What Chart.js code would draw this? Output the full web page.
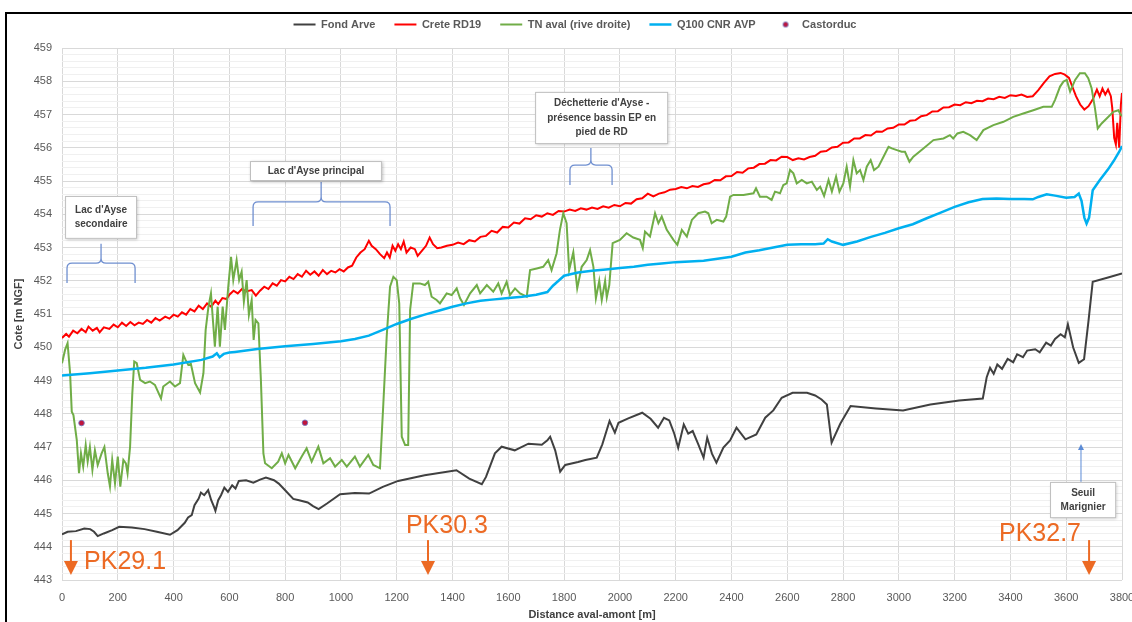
<!DOCTYPE html>
<html lang="fr">
<head>
    <meta charset="UTF-8">
    <title>Profil en long - Arve</title>
    <style>
        body {
    margin: 0;
    padding: 0;
    background-color: #ffffff;
    overflow: hidden;
    width: 1132px;
    height: 622px;
    position: relative;
}

#profil {
    position: absolute;
    left: 0;
    top: 0;
}

.frame {
    position: absolute;
    left: 5px;
    top: 12px;
    width: 1300px;
    height: 800px;
    border: 2px solid #000000;
    pointer-events: none;
}
    </style>
</head>
<body>
    <canvas id="profil" width="1160" height="640"></canvas>
    <div class="frame"></div>
    <script src="https://cdn.jsdelivr.net/npm/chart.js"></script>
    <script>
// Fond Arve
const fondX = [0, 20, 50, 80, 101, 115, 128, 150, 180, 205, 250, 296, 340, 387, 414, 440, 452, 465, 475, 490,
    498, 510, 524, 535, 545, 550, 560, 570, 582, 595, 610, 622, 634, 660, 686, 710, 731, 760, 777, 800,
    829, 850, 881, 900, 920, 950, 997, 1050, 1101, 1150, 1205, 1300, 1414, 1460, 1505, 1520, 1552, 1576, 1623, 1672,
    1720, 1740, 1750, 1768, 1786, 1804, 1850, 1876, 1917, 1937, 1963, 1982, 1995, 2030, 2080, 2110, 2137, 2158, 2177, 2195,
    2209, 2229, 2245, 2261, 2280, 2300, 2313, 2330, 2346, 2371, 2395, 2418, 2450, 2489, 2521, 2550, 2580, 2619, 2671, 2700,
    2723, 2742, 2759, 2790, 2827, 2918, 3015, 3113, 3216, 3301, 3315, 3327, 3340, 3353, 3370, 3390, 3410, 3424, 3445, 3460,
    3489, 3505, 3528, 3545, 3560, 3580, 3595, 3606, 3625, 3645, 3664, 3680, 3695, 3750, 3800];
const fondY = [444.37, 444.45, 444.47, 444.55, 444.53, 444.45, 444.32, 444.40, 444.50, 444.60, 444.58, 444.53, 444.45, 444.36, 444.50, 444.72, 444.88, 444.95, 445.25, 445.45,
    445.63, 445.55, 445.70, 445.40, 445.20, 445.08, 445.40, 445.55, 445.78, 445.65, 445.85, 445.75, 445.98, 446.00, 445.93, 446.02, 446.08, 446.00, 445.90, 445.70,
    445.44, 445.40, 445.33, 445.22, 445.13, 445.30, 445.58, 445.62, 445.60, 445.80, 445.98, 446.15, 446.30, 446.05, 445.88, 446.10, 446.81, 447.01, 446.90, 447.10,
    447.07, 447.20, 447.31, 446.90, 446.26, 446.46, 446.55, 446.61, 446.68, 447.08, 447.78, 447.43, 447.73, 447.86, 448.03, 447.85, 447.58, 447.88, 447.80, 447.40,
    446.98, 447.68, 447.40, 447.48, 447.10, 446.68, 447.28, 446.80, 446.53, 446.98, 447.20, 447.58, 447.23, 447.38, 447.88, 448.10, 448.48, 448.63, 448.63, 448.55,
    448.43, 448.28, 447.13, 447.70, 448.23, 448.16, 448.10, 448.28, 448.40, 448.46, 449.10, 449.38, 449.20, 449.48, 449.35, 449.65, 449.55, 449.79, 449.70, 449.90,
    449.94, 449.85, 450.14, 450.05, 450.25, 450.39, 450.30, 450.69, 449.99, 449.53, 449.64, 450.80, 451.97, 452.10, 452.22];

// Crete RD19
const creteX = [0, 15, 25, 40, 55, 70, 85, 95, 110, 125, 135, 150, 170, 185, 200, 215, 230, 245, 260, 275,
    290, 305, 320, 335, 350, 370, 385, 400, 415, 430, 445, 460, 475, 490, 505, 520, 535, 550, 560, 575,
    590, 600, 615, 630, 645, 660, 680, 695, 710, 725, 740, 755, 770, 785, 800, 815, 830, 845, 860, 875,
    890, 905, 920, 935, 950, 965, 980, 995, 1010, 1025, 1040, 1055, 1070, 1085, 1100, 1110, 1125, 1140, 1155, 1165,
    1175, 1185, 1195, 1205, 1215, 1225, 1235, 1250, 1265, 1275, 1290, 1305, 1318, 1330, 1345, 1360, 1380, 1400, 1420, 1440,
    1460, 1480, 1500, 1520, 1540, 1560, 1580, 1600, 1620, 1640, 1660, 1680, 1700, 1720, 1740, 1760, 1780, 1800, 1820, 1840,
    1860, 1880, 1900, 1920, 1940, 1960, 1980, 2000, 2020, 2040, 2060, 2080, 2100, 2120, 2140, 2160, 2180, 2200, 2220, 2240,
    2260, 2280, 2300, 2320, 2340, 2360, 2380, 2400, 2420, 2440, 2460, 2480, 2500, 2520, 2540, 2560, 2580, 2600, 2620, 2640,
    2660, 2680, 2700, 2720, 2740, 2760, 2780, 2800, 2820, 2840, 2860, 2880, 2900, 2920, 2940, 2960, 2980, 3000, 3020, 3040,
    3060, 3080, 3100, 3120, 3140, 3160, 3180, 3200, 3220, 3240, 3260, 3280, 3300, 3320, 3340, 3360, 3380, 3400, 3420, 3440,
    3460, 3480, 3500, 3520, 3540, 3560, 3580, 3595, 3610, 3620, 3635, 3650, 3665, 3680, 3695, 3710, 3720, 3730, 3740, 3750,
    3760, 3765, 3772, 3778, 3783, 3790, 3796, 3800];
const creteY = [450.28, 450.40, 450.32, 450.50, 450.42, 450.55, 450.45, 450.62, 450.50, 450.58, 450.45, 450.60, 450.55, 450.68, 450.60, 450.74, 450.64, 450.76, 450.66, 450.74,
    450.70, 450.82, 450.74, 450.88, 450.80, 450.92, 450.86, 450.98, 450.92, 451.05, 450.98, 451.15, 451.08, 451.25, 451.15, 451.32, 451.22, 451.40, 451.30, 451.48,
    451.45, 451.58, 451.70, 451.62, 451.75, 451.68, 451.72, 451.55, 451.70, 451.82, 451.75, 451.92, 451.85, 452.02, 451.98, 452.12, 452.05, 452.20, 452.12, 452.30,
    452.18, 452.28, 452.15, 452.32, 452.20, 452.30, 452.25, 452.35, 452.28, 452.40, 452.45, 452.70, 452.85, 452.95, 453.20, 453.05, 452.95, 452.80, 452.68, 452.85,
    452.70, 453.05, 452.90, 453.10, 452.95, 453.18, 452.85, 453.00, 452.95, 452.75, 452.90, 453.05, 453.30, 453.10, 452.98, 453.00, 453.05, 453.08, 453.15, 453.10,
    453.22, 453.18, 453.32, 453.35, 453.50, 453.45, 453.62, 453.60, 453.75, 453.72, 453.88, 453.85, 453.97, 453.93, 454.03, 453.98, 454.10, 454.08, 454.14, 454.10,
    454.18, 454.14, 454.20, 454.16, 454.24, 454.20, 454.28, 454.24, 454.34, 454.32, 454.45, 454.48, 454.62, 454.54, 454.62, 454.66, 454.74, 454.76, 454.82, 454.78,
    454.85, 454.82, 454.90, 454.93, 455.03, 455.02, 455.14, 455.15, 455.27, 455.25, 455.38, 455.40, 455.51, 455.52, 455.63, 455.62, 455.73, 455.72, 455.63, 455.68,
    455.65, 455.72, 455.76, 455.88, 455.90, 456.01, 456.03, 456.15, 456.16, 456.28, 456.28, 456.38, 456.37, 456.49, 456.48, 456.58, 456.60, 456.70, 456.70, 456.81,
    456.83, 456.95, 456.98, 457.09, 457.10, 457.21, 457.22, 457.30, 457.28, 457.37, 457.34, 457.41, 457.40, 457.48, 457.46, 457.53, 457.50, 457.58, 457.56, 457.60,
    457.53, 457.55, 457.73, 457.95, 458.15, 458.22, 458.25, 458.20, 458.10, 457.88, 457.55, 457.30, 457.15, 457.25, 457.45, 457.75, 457.55, 457.78, 457.60, 457.75,
    457.55, 457.20, 456.30, 456.10, 456.75, 456.00, 457.30, 457.65];

// TN aval (rive droite)
const tnX = [0, 11, 20, 29, 35, 41, 53, 61, 68, 76, 85, 92, 100, 109, 118, 128, 142, 152, 164, 172,
    180, 190, 200, 209, 220, 229, 235, 244, 252, 259, 268, 280, 298, 315, 333, 355, 363, 387, 405, 423,
    435, 443, 453, 462, 477, 495, 507, 515, 525, 534, 541, 548, 558, 566, 576, 584, 596, 606, 614, 626,
    635, 644, 652, 662, 670, 680, 687, 694, 704, 713, 722, 728, 752, 775, 788, 800, 812, 836, 859, 877,
    895, 919, 937, 961, 979, 1003, 1021, 1050, 1068, 1098, 1116, 1140, 1152, 1164, 1176, 1188, 1200, 1209, 1218, 1230,
    1241, 1248, 1259, 1283, 1301, 1313, 1325, 1343, 1355, 1379, 1397, 1415, 1427, 1441, 1463, 1487, 1499, 1523, 1546, 1564,
    1576, 1594, 1606, 1624, 1642, 1666, 1678, 1702, 1725, 1743, 1755, 1773, 1785, 1797, 1809, 1818, 1833, 1847, 1863, 1881,
    1893, 1905, 1914, 1926, 1935, 1947, 1953, 1962, 1974, 2000, 2024, 2048, 2072, 2082, 2090, 2108, 2126, 2138, 2150, 2168,
    2192, 2206, 2222, 2240, 2258, 2281, 2305, 2317, 2329, 2347, 2371, 2381, 2395, 2407, 2443, 2479, 2488, 2502, 2526, 2544,
    2556, 2574, 2586, 2598, 2610, 2622, 2634, 2652, 2670, 2688, 2706, 2718, 2732, 2748, 2760, 2775, 2787, 2801, 2813, 2825,
    2837, 2849, 2861, 2873, 2885, 2899, 2911, 2927, 2945, 2963, 2975, 2993, 3010, 3022, 3038, 3052, 3088, 3124, 3160, 3183,
    3195, 3210, 3231, 3255, 3279, 3303, 3339, 3375, 3410, 3446, 3482, 3518, 3548, 3560, 3578, 3590, 3602, 3614, 3632, 3649,
    3667, 3679, 3691, 3703, 3713, 3727, 3745, 3769, 3787, 3793, 3800];
const tnY = [449.52, 449.92, 450.12, 449.22, 448.06, 447.96, 447.21, 446.21, 446.81, 446.41, 447.06, 446.56, 447.00, 446.31, 446.90, 446.46, 446.81, 447.00, 446.21, 445.81,
    446.61, 445.91, 446.71, 445.81, 446.61, 446.51, 446.21, 447.00, 448.61, 449.57, 449.52, 449.02, 448.92, 448.97, 448.87, 448.46, 448.82, 448.97, 448.82, 448.92,
    449.77, 449.62, 449.47, 449.50, 448.92, 448.64, 449.22, 450.52, 451.22, 451.62, 450.82, 450.02, 451.22, 450.02, 451.22, 450.52, 451.82, 452.72, 452.02, 452.62,
    452.02, 452.27, 451.37, 452.02, 450.97, 451.42, 450.22, 450.82, 450.72, 449.02, 446.81, 446.51, 446.36, 446.56, 446.81, 446.51, 446.76, 446.36, 446.71, 446.96,
    446.56, 447.01, 446.51, 446.66, 446.41, 446.61, 446.41, 446.71, 446.41, 446.76, 446.46, 446.36, 448.31, 450.32, 451.82, 452.12, 452.02, 451.32, 447.31, 447.06,
    447.06, 451.12, 451.92, 451.92, 451.87, 451.97, 451.52, 451.42, 451.32, 451.62, 451.57, 451.77, 451.47, 451.27, 451.62, 451.87, 451.62, 451.87, 451.67, 451.92,
    451.62, 451.97, 451.57, 451.77, 451.62, 451.52, 452.32, 452.37, 452.42, 452.62, 452.32, 452.82, 453.53, 454.03, 453.73, 452.32, 452.86, 451.77, 452.42, 452.62,
    452.92, 452.42, 451.47, 452.00, 451.42, 452.00, 451.50, 451.87, 453.13, 453.23, 453.43, 453.30, 453.23, 452.98, 453.48, 453.33, 454.03, 453.73, 453.93, 453.53,
    453.23, 453.08, 453.53, 453.33, 453.83, 454.03, 454.08, 454.03, 453.73, 453.83, 453.78, 453.93, 454.53, 454.58, 454.58, 454.63, 454.78, 454.53, 454.53, 454.43,
    454.68, 454.63, 454.88, 454.93, 455.33, 455.23, 454.93, 455.03, 454.93, 454.98, 454.73, 454.83, 454.55, 455.03, 454.68, 455.13, 454.68, 454.93, 455.43, 454.83,
    455.63, 455.23, 455.33, 455.03, 455.43, 455.63, 455.33, 455.43, 455.73, 456.03, 455.98, 455.93, 455.88, 455.88, 455.58, 455.73, 455.98, 456.23, 456.28, 456.38,
    456.28, 456.43, 456.48, 456.38, 456.23, 456.53, 456.68, 456.78, 456.93, 457.03, 457.13, 457.23, 457.23, 457.44, 457.84, 457.99, 458.04, 457.69, 458.04, 458.24,
    458.24, 458.09, 457.79, 457.19, 456.58, 456.73, 456.88, 457.08, 457.13, 457.03, 456.95];

// Q100 CNR AVP
const q100X = [0, 100, 200, 300, 400, 500, 540, 555, 565, 580, 600, 620, 640, 700, 800, 900, 1000, 1050, 1100, 1150,
    1200, 1250, 1300, 1350, 1400, 1450, 1500, 1550, 1600, 1650, 1700, 1740, 1760, 1780, 1800, 1850, 1900, 1950, 2000, 2050,
    2100, 2150, 2200, 2250, 2300, 2350, 2400, 2450, 2500, 2550, 2600, 2650, 2700, 2730, 2745, 2760, 2800, 2850, 2900, 2950,
    3000, 3050, 3100, 3150, 3200, 3250, 3300, 3350, 3400, 3450, 3480, 3500, 3530, 3560, 3600, 3630, 3645, 3655, 3665, 3673,
    3682, 3695, 3720, 3750, 3770, 3790, 3800];
const q100Y = [449.15, 449.22, 449.30, 449.38, 449.48, 449.62, 449.72, 449.82, 449.70, 449.80, 449.84, 449.86, 449.88, 449.95, 450.03, 450.10, 450.18, 450.25, 450.35, 450.52,
    450.70, 450.85, 450.98, 451.10, 451.22, 451.32, 451.40, 451.44, 451.48, 451.52, 451.58, 451.66, 451.85, 452.00, 452.15, 452.25, 452.30, 452.34, 452.38, 452.42,
    452.48, 452.52, 452.56, 452.58, 452.60, 452.66, 452.72, 452.85, 452.92, 453.00, 453.08, 453.10, 453.10, 453.12, 453.25, 453.18, 453.08, 453.18, 453.32, 453.44,
    453.58, 453.70, 453.88, 454.05, 454.22, 454.36, 454.46, 454.47, 454.46, 454.46, 454.45, 454.52, 454.60, 454.56, 454.50, 454.52, 454.62, 454.40, 453.90, 453.72,
    453.90, 454.72, 455.02, 455.35, 455.60, 455.88, 456.05];

// Castorduc
const castorX = [70, 871];
const castorY = [447.72, 447.73];

// axes
const yMin = 443, yMax = 459;
const xMin = 0, xMax = 3800, xStep = 200;

function toPoints(xs, ys) {
    return xs.map(function(x, i) { return { x: x, y: ys[i] }; });
}

// notes drawn on the chart, placed in data units (m, m NGF)
const noteBoxes = [
    { x0: 11, x1: 269, yTop: 454.55, yBot: 453.26, lines: ["Lac d'Ayse", 'secondaire'] },
    { x0: 674, x1: 1147, yTop: 455.60, yBot: 455.00, lines: ["Lac d'Ayse principal"] },
    { x0: 1696, x1: 2173, yTop: 457.68, yBot: 456.11, lines: ["Déchetterie d'Ayse -", 'présence bassin EP en', 'pied de RD'] },
    { x0: 3542, x1: 3779, yTop: 445.95, yBot: 444.86, lines: ['Seuil', 'Marignier'] }
];
const noteBraces = [
    { x0: 18, x1: 262, xm: 140, yTip: 453.11, yMid: 452.53, yEnd: 451.93 },
    { x0: 685, x1: 1176, xm: 929, yTip: 454.97, yMid: 454.37, yEnd: 453.65 },
    { x0: 1821, x1: 1972, xm: 1896, yTip: 455.99, yMid: 455.48, yEnd: 454.88 }
];
const pkMarks = [
    { label: 'PK29.1', x: 32, textX: 79, textY: 443.33 },
    { label: 'PK30.3', x: 1312, textX: 1233, textY: 444.41 },
    { label: 'PK32.7', x: 3682, textX: 3359, textY: 444.17 }
];

const notesPlugin = {
    id: 'notes',
    afterDatasetsDraw(chart) {
        const ctx = chart.ctx;
        const sx = chart.scales.x, sy = chart.scales.y;
        const px = v => sx.getPixelForValue(v);
        const py = v => sy.getPixelForValue(v);
        ctx.save();

        // braces
        ctx.strokeStyle = '#6F8FD0';
        ctx.lineWidth = 1.3;
        noteBraces.forEach(function(b) {
            const x0 = px(b.x0), x1 = px(b.x1), xm = px(b.xm);
            const yt = py(b.yTip), ym = py(b.yMid), ye = py(b.yEnd);
            const r = 5;
            ctx.beginPath();
            ctx.moveTo(x0, ye);
            ctx.lineTo(x0, ym + r);
            ctx.quadraticCurveTo(x0, ym, x0 + r, ym);
            ctx.lineTo(xm - r, ym);
            ctx.quadraticCurveTo(xm, ym, xm, ym - r);
            ctx.lineTo(xm, yt);
            ctx.moveTo(xm, ym - r);
            ctx.quadraticCurveTo(xm, ym, xm + r, ym);
            ctx.lineTo(x1 - r, ym);
            ctx.quadraticCurveTo(x1, ym, x1, ym + r);
            ctx.lineTo(x1, ye);
            ctx.stroke();
        });

        // blue arrow to the weir
        const ax = px(3653);
        const ay0 = py(445.95), ay1 = py(447.09);
        ctx.strokeStyle = '#5B8BD6';
        ctx.fillStyle = '#5B8BD6';
        ctx.lineWidth = 1;
        ctx.beginPath();
        ctx.moveTo(ax, ay0);
        ctx.lineTo(ax, ay1 + 5);
        ctx.stroke();
        ctx.beginPath();
        ctx.moveTo(ax, ay1);
        ctx.lineTo(ax - 3, ay1 + 6);
        ctx.lineTo(ax + 3, ay1 + 6);
        ctx.closePath();
        ctx.fill();

        // text boxes
        noteBoxes.forEach(function(b) {
            const x0 = px(b.x0), x1 = px(b.x1), y0 = py(b.yTop), y1 = py(b.yBot);
            ctx.save();
            ctx.shadowColor = 'rgba(0,0,0,0.25)';
            ctx.shadowBlur = 3;
            ctx.shadowOffsetX = 1;
            ctx.shadowOffsetY = 1;
            ctx.fillStyle = '#ffffff';
            ctx.fillRect(x0, y0, x1 - x0, y1 - y0);
            ctx.restore();
            ctx.strokeStyle = '#BFBFBF';
            ctx.lineWidth = 1;
            ctx.strokeRect(x0 + 0.5, y0 + 0.5, x1 - x0 - 1, y1 - y0 - 1);
            ctx.fillStyle = '#404040';
            ctx.font = 'bold 10px "Liberation Sans", Arial, sans-serif';
            ctx.textAlign = 'center';
            ctx.textBaseline = 'middle';
            const lh = 14.5;
            const cy = (y0 + y1) / 2 - (b.lines.length - 1) * lh / 2;
            b.lines.forEach(function(t, i) {
                ctx.fillText(t, (x0 + x1) / 2, cy + i * lh);
            });
        });

        // orange PK arrows
        ctx.strokeStyle = '#EC6A24';
        ctx.fillStyle = '#EC6A24';
        pkMarks.forEach(function(p) {
            const x = px(p.x);
            const yA = py(444.2), yB = py(443.15);
            ctx.lineWidth = 2;
            ctx.beginPath();
            ctx.moveTo(x, yA);
            ctx.lineTo(x, yB - 12);
            ctx.stroke();
            ctx.beginPath();
            ctx.moveTo(x - 7, yB - 14);
            ctx.lineTo(x + 7, yB - 14);
            ctx.lineTo(x, yB);
            ctx.closePath();
            ctx.fill();
            ctx.font = '25px "Liberation Sans", Arial, sans-serif';
            ctx.textAlign = 'left';
            ctx.textBaseline = 'alphabetic';
            ctx.fillText(p.label, px(p.textX), py(p.textY));
        });
        ctx.restore();
    }
};

// fixed plot box, like the spreadsheet chart
const legendHeight = {
    id: 'legendHeight',
    beforeInit(chart) {
        const fit = chart.legend.fit;
        chart.legend.fit = function() {
            fit.bind(chart.legend)();
            this.height = 48;
        };
    },
    afterLayout(chart) {
        // legend sits a bit right of the canvas centre in the original
        chart.legend.left += 10;
        chart.legend.right += 10;
    }
};

// small dot used in the legend for Castorduc
const dotIcon = document.createElement('canvas');
dotIcon.width = 22;
dotIcon.height = 8;
(function() {
    const c = dotIcon.getContext('2d');
    c.beginPath();
    c.arc(11, 4, 2.6, 0, Math.PI * 2);
    c.fillStyle = '#C0143C';
    c.fill();
    c.lineWidth = 0.8;
    c.strokeStyle = '#6A7BC8';
    c.stroke();
})();

const font = '"Liberation Sans", Arial, sans-serif';

new Chart(document.getElementById('profil'), {
    type: 'line',
    data: {
        datasets: [
            {
                label: 'Fond Arve',
                data: toPoints(fondX, fondY),
                borderColor: '#404040',
                backgroundColor: '#404040',
                borderWidth: 2,
                pointRadius: 0,
                pointStyle: 'line',
                order: 5
            },
            {
                label: 'Crete RD19',
                data: toPoints(creteX, creteY),
                borderColor: '#FF0000',
                backgroundColor: '#FF0000',
                borderWidth: 2,
                pointRadius: 0,
                pointStyle: 'line',
                order: 4
            },
            {
                label: 'TN aval (rive droite)',
                data: toPoints(tnX, tnY),
                borderColor: '#70AD47',
                backgroundColor: '#70AD47',
                borderWidth: 2,
                pointRadius: 0,
                pointStyle: 'line',
                order: 3
            },
            {
                label: 'Q100 CNR AVP',
                data: toPoints(q100X, q100Y),
                borderColor: '#00B0F0',
                backgroundColor: '#00B0F0',
                borderWidth: 2.5,
                pointRadius: 0,
                pointStyle: 'line',
                order: 2
            },
            {
                label: 'Castorduc',
                data: toPoints(castorX, castorY),
                showLine: false,
                pointRadius: 2.8,
                pointBackgroundColor: '#C0143C',
                pointBorderColor: '#6A7BC8',
                pointBorderWidth: 0.8,
                borderColor: '#6A7BC8',
                backgroundColor: '#C0143C',
                order: 1
            }
        ]
    },
    options: {
        responsive: false,
        animation: false,
        events: [],
        devicePixelRatio: 1,
        layout: { padding: { left: 8, right: 38, top: 0, bottom: 16 } },
        plugins: {
            tooltip: { enabled: false },
            legend: {
                position: 'top',
                labels: {
                    usePointStyle: true,
                    pointStyleWidth: 22,
                    padding: 19,
                    color: '#595959',
                    font: { family: font, size: 11, weight: 'bold' },
                    sort: (a, b) => a.datasetIndex - b.datasetIndex,
                    generateLabels(chart) {
                        const items = Chart.defaults.plugins.legend.labels.generateLabels(chart);
                        items.forEach(function(it) {
                            if (it.text === 'Castorduc') {
                                it.pointStyle = dotIcon;
                            }
                        });
                        return items;
                    }
                }
            }
        },
        scales: {
            x: {
                type: 'linear',
                min: xMin,
                max: xMax,
                afterFit(scale) { scale.height = 44; },
                ticks: {
                    stepSize: xStep,
                    padding: 11,
                    color: '#595959',
                    font: { family: font, size: 11 },
                    maxRotation: 0,
                    callback: v => String(v)
                },
                grid: { color: '#D9D9D9', drawTicks: false },
                border: { display: false },
                title: {
                    display: true,
                    text: 'Distance aval-amont [m]',
                    color: '#404040',
                    font: { family: font, size: 11, weight: 'bold' },
                    padding: { top: 6, bottom: 2 }
                }
            },
            y: {
                min: yMin,
                max: yMax,
                afterFit(scale) { scale.width = 54; },
                ticks: {
                    stepSize: 0.2,
                    autoSkip: false,
                    padding: 10,
                    color: '#595959',
                    font: { family: font, size: 11 },
                    callback: function(v) {
                        return Math.abs(v - Math.round(v)) < 1e-6 ? String(Math.round(v)) : '';
                    }
                },
                grid: {
                    drawTicks: false,
                    color: function(c) {
                        const v = c.tick ? c.tick.value : 0;
                        return Math.abs(v - Math.round(v)) < 1e-6 ? '#D9D9D9' : '#F0F0F0';
                    }
                },
                border: { display: false },
                title: {
                    display: true,
                    text: 'Cote [m NGF]',
                    color: '#404040',
                    font: { family: font, size: 11, weight: 'bold' },
                    padding: { top: 4, bottom: 4 }
                }
            }
        }
    },
    plugins: [legendHeight, notesPlugin]
});
    </script>
</body>
</html>
